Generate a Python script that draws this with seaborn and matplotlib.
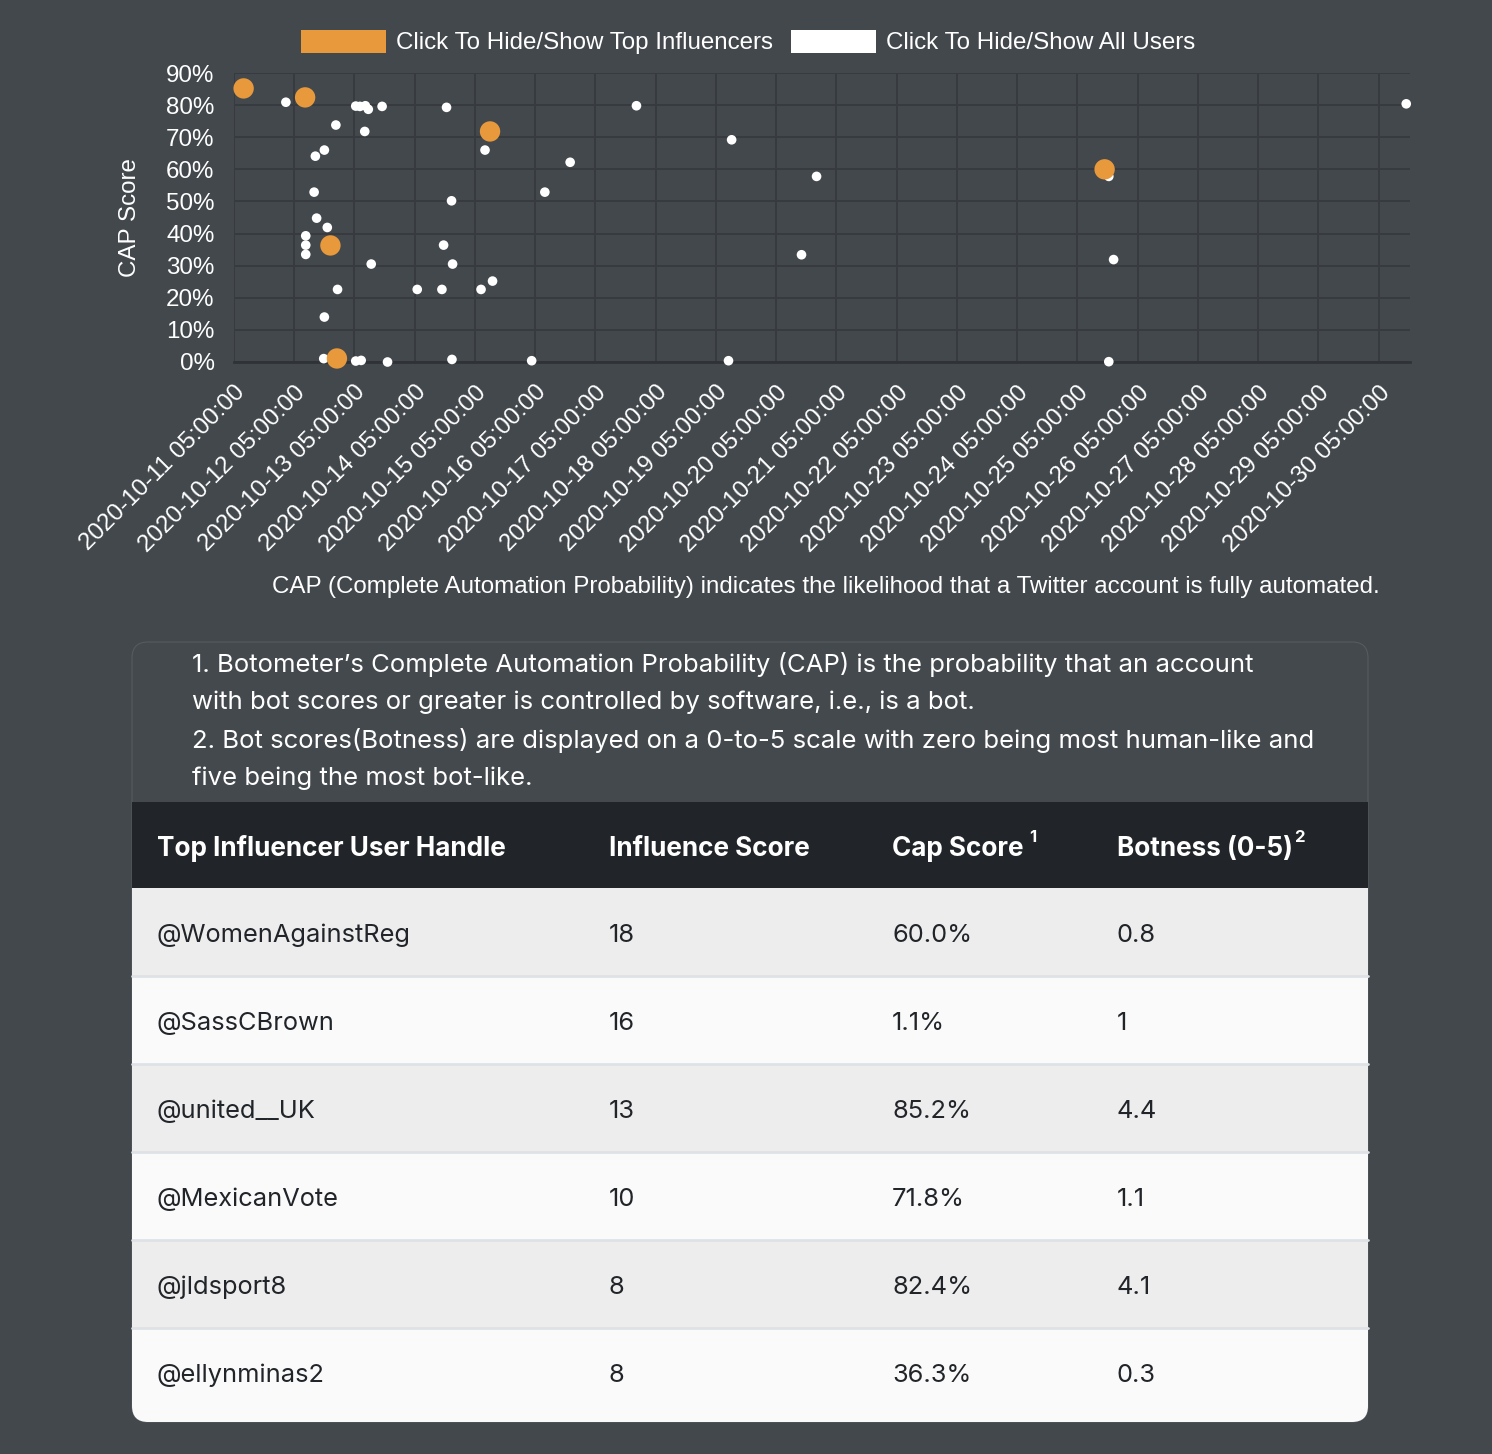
import matplotlib
matplotlib.use("Agg")
import matplotlib.pyplot as plt
from matplotlib.patches import FancyBboxPatch, Rectangle, Patch
import pandas as pd
import seaborn as sns

# top influencers (table + orange points)
top_handles = ["@WomenAgainstReg", "@SassCBrown", "@united__UK", "@MexicanVote", "@jldsport8", "@ellynminas2"]
top_influence = [18, 16, 13, 10, 8, 8]
top_cap = [60.0, 1.1, 85.2, 71.8, 82.4, 36.3]
top_botness = [0.8, 1, 4.4, 1.1, 4.1, 0.3]
top_times = ["2020-10-25 15:50", "2020-10-12 22:00", "2020-10-11 08:50",
             "2020-10-15 11:00", "2020-10-12 09:20", "2020-10-12 19:25"]

# all users (white points)
user_times = [
    "2020-10-12 01:40", "2020-10-13 05:30", "2020-10-13 07:10", "2020-10-13 09:20", "2020-10-13 10:30",
    "2020-10-13 16:00", "2020-10-14 17:40", "2020-10-17 21:20", "2020-10-12 21:35", "2020-10-13 09:05",
    "2020-10-12 17:00", "2020-10-12 13:25", "2020-10-15 09:00", "2020-10-16 18:55", "2020-10-12 12:55",
    "2020-10-16 08:50", "2020-10-14 19:40", "2020-10-12 13:55", "2020-10-12 18:10", "2020-10-12 09:35",
    "2020-10-12 09:35", "2020-10-12 09:35", "2020-10-14 16:30", "2020-10-13 11:40", "2020-10-14 20:05",
    "2020-10-12 22:15", "2020-10-14 06:00", "2020-10-14 15:50", "2020-10-15 07:25", "2020-10-15 12:00",
    "2020-10-12 17:00", "2020-10-12 16:45", "2020-10-13 05:30", "2020-10-13 07:40", "2020-10-13 18:10",
    "2020-10-14 19:50", "2020-10-16 03:35", "2020-10-19 11:15", "2020-10-20 21:05", "2020-10-20 15:05",
    "2020-10-25 17:30", "2020-10-25 19:25", "2020-10-19 10:00", "2020-10-25 17:30", "2020-10-30 16:00",
]
user_cap = [
    80.9, 79.7, 79.6, 79.8, 78.7,
    79.6, 79.3, 79.8, 73.8, 71.8,
    66.0, 64.1, 66.0, 62.2, 52.9,
    52.9, 50.2, 44.8, 41.9, 39.3,
    36.4, 33.5, 36.4, 30.5, 30.5,
    22.6, 22.6, 22.6, 22.6, 25.2,
    14.0, 1.05, 0.3, 0.5, 0.0,
    0.8, 0.4, 69.2, 57.8, 33.4,
    57.8, 31.9, 0.4, 0.1, 80.4,
]

col_headers = ["Top Influencer User Handle", "Influence Score", "Cap Score", "Botness (0-5)"]
header_marks = ["", "", "1", "2"]
notes = [
    "1. Botometer\u2019s Complete Automation Probability (CAP) is the probability that an account",
    "with bot scores or greater is controlled by software, i.e., is a bot.",
    "2. Bot scores(Botness) are displayed on a 0-to-5 scale with zero being most human-like and",
    "five being the most bot-like.",
]
caption = "CAP (Complete Automation Probability) indicates the likelihood that a Twitter account is fully automated."

BG = "#43484d"
ORANGE = "#e8993c"
GRID = "#373b40"
W, H = 1492, 1454

sns.set_theme(style="dark")
plt.rcParams["font.family"] = ["Liberation Sans", "DejaVu Sans"]

fig = plt.figure(figsize=(W / 100, H / 100), dpi=100, facecolor=BG)

# pixel overlay for the table panel
ov = fig.add_axes([0, 0, 1, 1])
ov.set_xlim(0, W)
ov.set_ylim(H, 0)
ov.axis("off")
ov.set_zorder(0)

# scatter chart
ax = fig.add_axes([234 / W, 1 - 362 / H, 1176 / W, 289 / H])
ax.set_zorder(2)
ax.set_facecolor("none")

users = pd.DataFrame({"time": pd.to_datetime(user_times), "cap": user_cap})
tops = pd.DataFrame({"time": pd.to_datetime(top_times), "cap": top_cap})

sns.scatterplot(data=users, x="time", y="cap", ax=ax, color="white", s=48,
                edgecolor="none", clip_on=False, zorder=3)
sns.scatterplot(data=tops, x="time", y="cap", ax=ax, color=ORANGE, s=215,
                edgecolor="none", clip_on=False, zorder=4)

ax.set_ylim(0, 90)
ax.set_yticks(range(0, 91, 10))
ax.set_yticklabels([f"{v}%" for v in range(0, 91, 10)])
ticks = pd.date_range("2020-10-11 05:00", periods=20, freq="D")
ax.set_xlim(pd.Timestamp("2020-10-11 05:00"), pd.Timestamp("2020-10-30 17:30"))
ax.set_xticks(ticks)
ax.set_xticklabels([t.strftime("%Y-%m-%d %H:%M:%S") for t in ticks],
                   rotation=45, ha="right", rotation_mode="anchor")
ax.grid(True, color=GRID, linewidth=1.4)
ax.tick_params(axis="both", colors="white", labelsize=17.4, length=9, width=1.4, color=GRID, pad=5)
for side in ["top", "right", "left"]:
    ax.spines[side].set_visible(False)
ax.spines["bottom"].set_color("#2f3337")
ax.spines["bottom"].set_linewidth(2)
ax.set_xlabel("")
ax.set_ylabel("CAP Score", color="white", fontsize=17.4, labelpad=18)

handles = [Patch(facecolor=ORANGE, edgecolor="none", label="Click To Hide/Show Top Influencers"),
           Patch(facecolor="white", edgecolor="none", label="Click To Hide/Show All Users")]
fig.legend(handles=handles, loc="center", bbox_to_anchor=(748 / W, 1 - 42 / H), ncol=2,
           frameon=False, fontsize=17.4, labelcolor="white", handlelength=3.5, handleheight=1.1,
           handletextpad=0.42, columnspacing=0.75, borderpad=0)

ov.text(1380, 587, caption, color="white", fontsize=17.4, ha="right", va="center")

# table panel
tfont = ["Inter", "DejaVu Sans"]
px0, py0, px1, py1, r = 132, 642, 1368, 1422, 16
panel = FancyBboxPatch((px0 + r, py0 + r), px1 - px0 - 2 * r, py1 - py0 - 2 * r,
                       boxstyle=f"round,pad={r}", facecolor="#44494e", edgecolor="#565b60", linewidth=0.8)
ov.add_patch(panel)
clip = FancyBboxPatch((px0 + r, py0 + r), px1 - px0 - 2 * r, py1 - py0 - 2 * r,
                      boxstyle=f"round,pad={r}", facecolor="none", edgecolor="none")
ov.add_patch(clip)

for i, line in enumerate(notes):
    ov.text(192, 662 + i * 38, line, color="white", fontsize=18.5, family=tfont, va="center_baseline")

col_x = [157, 609, 892, 1117]
head_top, head_bot, row_h = 802, 888, 88
hdr = Rectangle((px0, head_top), px1 - px0, head_bot - head_top, facecolor="#212529", edgecolor="none")
ov.add_patch(hdr)
for x, label, mark in zip(col_x, col_headers, header_marks):
    t = ov.text(x, (head_top + head_bot) / 2 + 1, label, color="white", fontsize=18.8, family=tfont,
                fontweight="bold", va="center_baseline")
    if mark:
        ov.annotate(mark, xy=(1, 1), xycoords=t, xytext=(4 if mark == "1" else 1, 4),
                    textcoords="offset points", color="white", fontsize=12, family=tfont,
                    fontweight="bold", ha="left", va="top")

for i in range(len(top_handles)):
    y0 = head_bot + i * row_h
    row = Rectangle((px0, y0), px1 - px0, row_h + (10 if i == len(top_handles) - 1 else 0),
                    facecolor="#ededed" if i % 2 == 0 else "#fafafa", edgecolor="none")
    ov.add_patch(row)
    row.set_clip_path(clip)
    if i > 0:
        ov.plot([px0, px1], [y0, y0], color="#dee2e6", linewidth=2)
    vals = [top_handles[i], str(top_influence[i]), f"{top_cap[i]:.1f}%", f"{top_botness[i]:g}"]
    for x, v in zip(col_x, vals):
        ov.text(x, y0 + row_h / 2 + 1, v, color="#212529", fontsize=18.3, family=tfont,
                va="center_baseline")

fig.savefig("out.png", dpi=100, facecolor=BG)
